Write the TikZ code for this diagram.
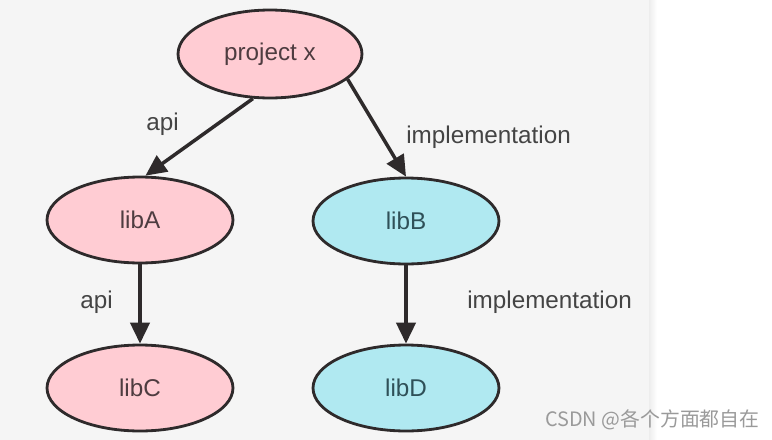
\documentclass[tikz,border=0pt]{standalone}
\usepackage{fontspec}
\setmainfont{Liberation Sans}
\newfontfamily\cjk{Noto Sans CJK SC}
\usetikzlibrary{arrows.meta,shapes.geometric}
\definecolor{paper}{HTML}{F5F5F5}
\definecolor{ink}{HTML}{2E2A2B}
\definecolor{rose}{HTML}{FFCCD3}
\definecolor{aqua}{HTML}{B0E9F1}
\definecolor{rosetext}{HTML}{4E3C40}
\definecolor{aquatext}{HTML}{2F5058}
\definecolor{note}{HTML}{444444}
\definecolor{mark}{HTML}{9A9A9A}

\begin{document}
\begin{tikzpicture}[
  x=0.02cm, y=-0.02cm,
  line join=round,
  % moduly: elipsy se silným obrysem
  lib/.style={ellipse, draw=ink, line width=1.6pt, inner sep=0pt,
    minimum width=3.72cm, minimum height=1.72cm,
    font=\fontsize{13.8}{16}\selectfont},
  pinklib/.style={lib, fill=rose, text=rosetext},
  bluelib/.style={lib, fill=aqua, text=aquatext},
  dep/.style={draw=ink, line width=2pt, -{Triangle[length=12pt,width=11pt]}},
  lbl/.style={font=\fontsize{13.8}{16}\selectfont, text=note, inner sep=0pt},
]
\useasboundingbox (0,0) rectangle (772,440);

% --- Pozadí (šedý panel vlevo, jemný stín na okraji)
\fill[paper] (0,0) rectangle (649,440);
\shade[left color=black!7, right color=white] (649,0) rectangle (657,440);

% --- Moduly
\node[pinklib, minimum width=3.68cm, minimum height=1.76cm] (px) at (270,54) {project x};
\node[pinklib] (libA) at (140,220) {libA};
\node[bluelib] (libB) at (406,221) {libB};
\node[pinklib] (libC) at (140,388) {libC};
\node[bluelib] (libD) at (406,388) {libD};

% --- Závislosti
\draw[dep] (px.249) -- (libA.83);
\draw[dep] (px.-18) -- (libB.north);
\draw[dep] (libA) -- (libC);
\draw[dep] (libB) -- (libD);

% --- Popisky hran
\node[lbl, anchor=base west] (apiA) at (146,130) {api};
\node[lbl, anchor=base west] (implB) at (406,143) {implementation};
\node[lbl, anchor=base west] (apiC) at (80,308) {api};
\node[lbl, anchor=base west] (implD) at (467,308) {implementation};

% --- Vodoznak
\node[anchor=west, inner sep=0pt, text=mark, font=\cjk\fontsize{11.3}{13}\selectfont]
  (wm) at (545,420) {CSDN @各个方面都自在};
\end{tikzpicture}
\end{document}
